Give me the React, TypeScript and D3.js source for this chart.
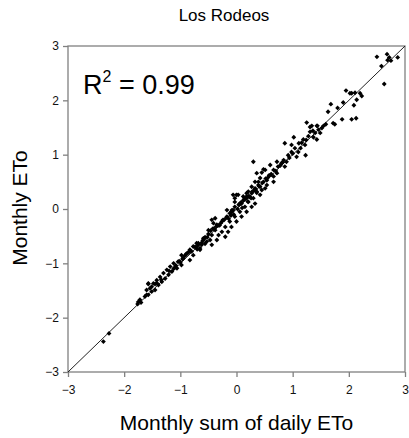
import { useEffect, useRef } from 'react';
import * as d3 from 'd3';

// monthly sum of daily ETo (x) vs monthly ETo (y), standardized values
const xVals = [
  2.50, 2.68, 2.72, 2.69, 2.75, 2.87, 2.58, 2.63, 2.05, 2.20, 2.23,
  1.95, 2.02, 2.11, 2.14, 2.09, 1.68, 1.63, 1.88, 2.05, 2.13, 1.72,
  1.25, 1.34, 1.43, 1.55, 1.59, 1.52, 1.31, 1.40, 1.49, 1.28, 1.37,
  1.43, 1.19, 1.16, 1.22, 1.24, 1.02, 0.86, 0.98, 1.11, 1.04, 0.98,
  1.10, 0.92, 1.07, 1.23, 0.30, 0.72, 0.80, 0.89, 0.74, 0.86, 0.66,
  0.51, 0.36, 0.45, 0.61, 0.72, 0.42, 0.54, 0.66, 0.33, 0.27, 0.42,
  0.51, 0.21, 0.36, 0.18, 1.31, 1.44, 1.75, 0.60, 0.48, 0.66, 0.39,
  0.54, 0.00, 0.18, -0.03,
  0.48, 0.39, 0.33, 0.45, 0.42, -0.06, 0.03, 0.12, 0.18, 0.27, -0.03,
  0.30, 0.21, 0.09, 0.33, -0.03, 0.15, 0.27, -0.09, 0.06, 0.18, -0.17,
  -0.03, 0.09, -0.38, -0.44, -0.26, -0.12, 0.00, -0.35, -0.20, -0.09,
  -0.50, -0.38, -0.26, -0.15, -0.44, -0.32, -0.20, -0.59, -0.47, -0.35,
  -0.68, -0.56, -0.44, -0.65, 0.05, 0.12, 0.24, -0.08, 0.02, 0.20,
  -0.22, -0.30, -0.10, 0.10, 0.26, 0.36, -0.14, -0.40, -0.05,
  -0.53, -0.71, -0.62, -0.77, -0.65, -0.83, -0.89, -0.77, -0.98, -0.95,
  -0.83, -1.04, -1.12, -0.98, -1.18, -1.06, -1.24, -1.15, -1.30, -1.21,
  -1.36, -1.27, -1.42, -1.33, -1.48, -1.57, -1.39, -1.51, -1.45, -1.60,
  -1.57, -0.92, -0.72, -0.58, -1.00, -1.10, -0.86, -0.62, -0.80, -0.95,
  -1.12, -1.42,
  -1.45, -1.54, -1.51, -1.60, -1.63, -1.75, -1.70, -1.76, -2.27, -2.37,
  -1.57, -1.72, -0.17, -0.41,
  // extra points in the dense part of the band
  -1.20, -1.08, -0.96, -0.90, -0.74, -0.68, -0.56, -0.50, -0.46, -0.36,
  -0.32, -0.24, -0.18, -0.12, -0.06, 0.04, 0.08, 0.14, 0.22, 0.28,
  0.34, 0.40, 0.46, 0.56, 0.62, 0.70, 0.78, 0.84, 0.94, 1.00,
  -1.34, -1.02, -0.84, -0.60, -0.42, -0.28, -0.08, 0.06, 0.16, 0.31,
  0.52, 0.58, 0.82, 1.14, 1.36, 1.46, 1.80, 1.90, -0.70, -0.52,
];
const yVals = [
  2.80, 2.85, 2.79, 2.74, 2.73, 2.79, 2.63, 2.30, 2.13, 2.13, 2.08,
  2.18, 2.13, 2.14, 2.01, 1.91, 1.93, 1.79, 1.65, 1.65, 1.67, 1.58,
  1.59, 1.53, 1.53, 1.53, 1.56, 1.49, 1.42, 1.40, 1.40, 1.34, 1.32,
  1.28, 1.28, 1.22, 1.18, 1.27, 1.32, 1.21, 1.18, 1.21, 1.12, 1.05,
  1.05, 0.99, 0.96, 0.99, 0.87, 0.87, 0.84, 0.87, 0.78, 0.78, 0.72,
  0.72, 0.66, 0.67, 0.63, 0.66, 0.57, 0.53, 0.50, 0.50, 0.41, 0.41,
  0.38, 0.32, 0.32, 0.23, 1.51, 1.53, 1.56, 0.81, 0.73, 0.60, 0.50,
  0.44, 0.26, 0.20, 0.13,
  0.50, 0.44, 0.38, 0.35, 0.26, 0.26, 0.26, 0.23, 0.29, 0.29, 0.20,
  0.20, 0.13, 0.10, 0.10, 0.04, 0.04, 0.04, -0.05, -0.05, -0.05, -0.14,
  -0.14, -0.14, -0.17, -0.20, -0.23, -0.23, -0.23, -0.29, -0.33, -0.33,
  -0.39, -0.39, -0.42, -0.42, -0.48, -0.48, -0.51, -0.54, -0.57, -0.57,
  -0.63, -0.64, -0.66, -0.72, 0.08, 0.16, 0.22, -0.02, 0.00, 0.14,
  -0.20, -0.30, -0.12, 0.02, 0.20, 0.30, -0.18, -0.36, -0.10,
  -0.60, -0.63, -0.66, -0.69, -0.75, -0.75, -0.82, -0.85, -0.85, -0.91,
  -0.94, -0.97, -1.00, -1.03, -1.06, -1.09, -1.12, -1.15, -1.18, -1.21,
  -1.25, -1.28, -1.31, -1.34, -1.37, -1.37, -1.40, -1.43, -1.49, -1.49,
  -1.58, -0.86, -0.70, -0.55, -0.98, -1.08, -0.80, -0.62, -0.78, -0.90,
  -1.10, -1.36,
  -1.38, -1.46, -1.52, -1.58, -1.61, -1.71, -1.72, -1.75, -2.29, -2.44,
  -1.38, -1.67, -0.02, -0.26,
  -1.14, -1.04, -0.92, -0.84, -0.70, -0.66, -0.52, -0.46, -0.40, -0.32,
  -0.30, -0.20, -0.16, -0.08, -0.02, 0.08, 0.12, 0.18, 0.24, 0.32,
  0.36, 0.42, 0.48, 0.58, 0.64, 0.70, 0.80, 0.90, 0.94, 1.02,
  -1.30, -0.96, -0.78, -0.58, -0.36, -0.26, -0.04, 0.10, 0.20, 0.34,
  0.56, 0.62, 0.86, 1.12, 1.44, 1.46, 1.86, 1.96, -0.74, -0.52,
];

const axisTicks = [-3, -2, -1, 0, 1, 2, 3];

const App = () => {
  const svgRef = useRef<SVGSVGElement>(null);

  useEffect(() => {
    const svg = d3.select(svgRef.current);
    svg.selectAll('*').remove();

    const margin = { top: 46, right: 4, bottom: 66, left: 68 };
    const width = 409;
    const height = 438;
    const innerWidth = width - margin.left - margin.right;
    const innerHeight = height - margin.top - margin.bottom;
    const font = 'Liberation Sans, Arial, sans-serif';

    const x = d3.scaleLinear().domain([-3, 3]).range([0, innerWidth]);
    const y = d3.scaleLinear().domain([-3, 3]).range([innerHeight, 0]);

    const g = svg.append('g')
      .attr('transform', `translate(${margin.left}, ${margin.top})`);

    // frame
    g.append('rect')
      .attr('width', innerWidth)
      .attr('height', innerHeight)
      .attr('fill', 'none')
      .attr('stroke', '#808080')
      .attr('stroke-width', 1.3);

    // axes
    const xAxis = g.append('g')
      .attr('transform', `translate(0, ${innerHeight})`)
      .call(d3.axisBottom(x).tickValues(axisTicks).tickSize(5).tickPadding(4).tickFormat(d3.format('d')));
    const yAxis = g.append('g')
      .call(d3.axisLeft(y).tickValues(axisTicks).tickSize(5).tickPadding(4).tickFormat(d3.format('d')));

    [xAxis, yAxis].forEach(a => {
      a.select('.domain').remove();
      a.selectAll('.tick line').attr('stroke', '#808080').attr('stroke-width', 1.3);
      a.selectAll('.tick text')
        .attr('font-family', font)
        .attr('font-size', '12px')
        .attr('fill', '#111');
    });
    xAxis.selectAll('.tick text').attr('dy', '1.1em');

    // 1:1 line
    g.append('line')
      .attr('x1', x(-3)).attr('y1', y(-3))
      .attr('x2', x(3)).attr('y2', y(3))
      .attr('stroke', '#222')
      .attr('stroke-width', 1);

    // points
    const symbol = d3.symbol().type(d3.symbolDiamond2).size(15);
    xVals.forEach((xv, i) => {
      g.append('path')
        .attr('d', symbol())
        .attr('transform', `translate(${x(xv)}, ${y(yVals[i])})`)
        .attr('fill', '#000');
    });

    // R^2 annotation
    const r2 = g.append('text')
      .attr('x', 15)
      .attr('y', 48)
      .attr('font-family', font)
      .attr('font-size', '27px')
      .attr('fill', '#000');
    r2.append('tspan').text('R');
    r2.append('tspan').attr('font-size', '16px').attr('dy', -12).text('2');
    r2.append('tspan').attr('dy', 12).text(' = 0.99');

    // title and axis labels
    svg.append('text')
      .attr('x', 224)
      .attr('y', 21)
      .attr('text-anchor', 'middle')
      .attr('font-family', font)
      .attr('font-size', '17px')
      .text('Los Rodeos');

    svg.append('text')
      .attr('x', margin.left + innerWidth / 2)
      .attr('y', 430)
      .attr('text-anchor', 'middle')
      .attr('font-family', font)
      .attr('font-size', '21px')
      .text('Monthly sum of daily ETo');

    svg.append('text')
      .attr('transform', `translate(27, 208) rotate(-90)`)
      .attr('text-anchor', 'middle')
      .attr('font-family', font)
      .attr('font-size', '21px')
      .text('Monthly ETo');
  }, []);

  return (
    <svg ref={svgRef} width="409" height="438" viewBox="0 0 409 438"
      style={{ position: 'absolute', left: 0, top: 0, background: '#fff' }}></svg>
  );
};

export default App;
